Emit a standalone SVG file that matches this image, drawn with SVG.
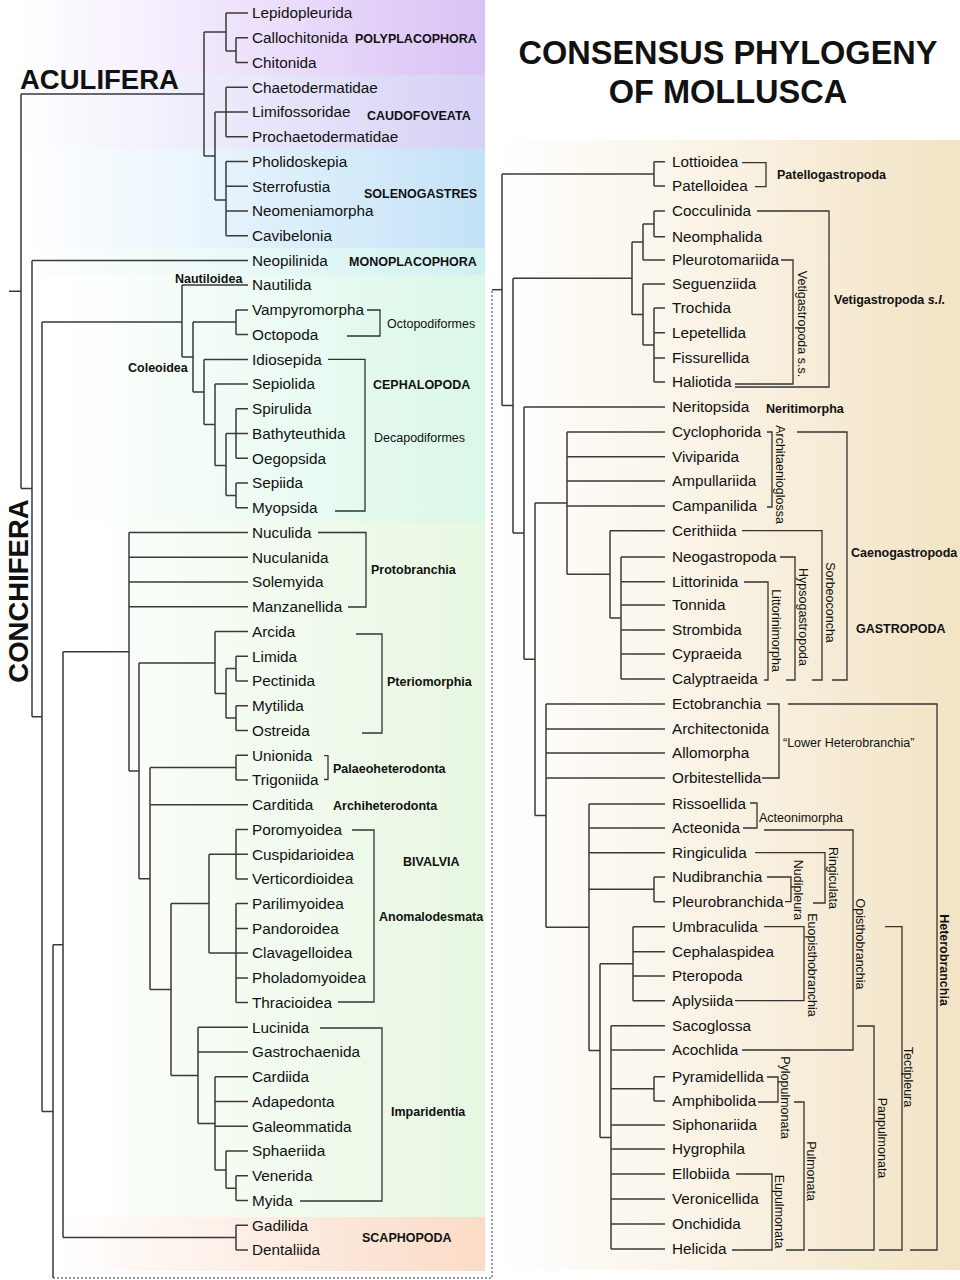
<svg xmlns="http://www.w3.org/2000/svg" width="960" height="1280" viewBox="0 0 960 1280">
<defs>
<style>
text{font-family:'Liberation Sans',Arial,sans-serif;fill:#111}
.leaf{font-size:15.3px}
.grp{font-size:12.5px;font-weight:bold}
.sub{font-size:12.5px}
.big{font-size:27.5px;font-weight:bold}
.title{font-size:32.5px;font-weight:bold;text-anchor:middle}
.mid{text-anchor:middle}
.tree{fill:none;stroke:#3a3a3a;stroke-width:1.5}
.br{fill:none;stroke:#333;stroke-width:1.3}
.dot{fill:none;stroke:#333;stroke-width:1;stroke-dasharray:2 2}
</style>
<linearGradient id="gPoly" x1="0" x2="1" y1="0" y2="0"><stop offset="0" stop-color="#ffffff"/><stop offset="0.3" stop-color="#f5eefd"/><stop offset="1" stop-color="#d9c2f5"/></linearGradient>
<linearGradient id="gCaudo" x1="0" x2="1" y1="0" y2="0"><stop offset="0" stop-color="#ffffff"/><stop offset="0.3" stop-color="#f1f0fc"/><stop offset="1" stop-color="#d5d1f5"/></linearGradient>
<linearGradient id="gSol" x1="0" x2="1" y1="0" y2="0"><stop offset="0" stop-color="#ffffff"/><stop offset="0.3" stop-color="#eef7fd"/><stop offset="1" stop-color="#c3e2f7"/></linearGradient>
<linearGradient id="gMono" x1="0" x2="1" y1="0" y2="0"><stop offset="0" stop-color="#ffffff"/><stop offset="0.3" stop-color="#f1fbfa"/><stop offset="1" stop-color="#d0f1f1"/></linearGradient>
<linearGradient id="gCeph" x1="0" x2="1" y1="0" y2="0"><stop offset="0" stop-color="#ffffff"/><stop offset="0.3" stop-color="#f4fdf8"/><stop offset="1" stop-color="#daf7e8"/></linearGradient>
<linearGradient id="gBiv" x1="0" x2="1" y1="0" y2="0"><stop offset="0" stop-color="#fbfefa"/><stop offset="1" stop-color="#e7f7e1"/></linearGradient>
<linearGradient id="gScaph" x1="0" x2="1" y1="0" y2="0"><stop offset="0" stop-color="#ffffff"/><stop offset="0.4" stop-color="#fdf0e8"/><stop offset="1" stop-color="#fbdbc6"/></linearGradient>
<linearGradient id="gGast" x1="0" x2="1" y1="0" y2="0"><stop offset="0" stop-color="#ffffff"/><stop offset="0.35" stop-color="#fbf6ec"/><stop offset="1" stop-color="#f2e3c4"/></linearGradient>
</defs>
<rect width="960" height="1280" fill="#ffffff"/>
<g id="backgrounds">
<rect x="20" y="0" width="465" height="75" fill="url(#gPoly)"/>
<rect x="20" y="75" width="465" height="74" fill="url(#gCaudo)"/>
<rect x="20" y="149" width="465" height="99" fill="url(#gSol)"/>
<rect x="20" y="248" width="465" height="27" fill="url(#gMono)"/>
<rect x="55" y="275" width="430" height="247" fill="url(#gCeph)"/>
<rect x="110" y="522" width="375" height="695" fill="url(#gBiv)"/>
<rect x="55" y="1217" width="430" height="54" fill="url(#gScaph)"/>
<rect x="494" y="140" width="466" height="1130" fill="url(#gGast)"/>
</g>
<g id="titles">
<text class="title" x="728" y="64">CONSENSUS PHYLOGENY</text>
<text class="title" x="728" y="103">OF MOLLUSCA</text>
<text class="big" x="20" y="89">ACULIFERA</text>
<text class="big mid" transform="translate(28 591) rotate(-90)">CONCHIFERA</text>
</g>
<g id="connectors">
<path class="tree" d="M9 291.3H21M21 94V488.5M21 94H204M21 488.5H32M32 260.4V716.7M32 260.4H248M32 716.7H42M42 322V1111.4M42 1111.4H53M53 944.8V1278"/>
<path class="dot" d="M53 1278H492V289.7"/>
<path class="tree" d="M492 289.7H502"/>
<path class="tree" d="M204 32V156M204 32H226M226 13V51M226 13H248M226 51H236M236 37.7V62.5M236 37.7H248M236 62.5H248M204 156H215M215 112V200M215 112H248M226 87.2V136.7M226 87.2H248M226 136.7H248M215 200H226M226 161.4V235.7M226 161.4H248M226 186.2H248M226 210.9H248M226 235.7H248"/>
<path class="tree" d="M42 322H182M182 285.1V357M182 285.1H248M182 357H193M193 322V392M193 322H236M236 309.9V334.6M236 309.9H248M236 334.6H248M193 392H204M204 359.4V424.5M204 359.4H248M204 424.5H215M215 384.1V465.5M215 384.1H248M215 465.5H226M226 433.6V495.5M226 433.6H248M236 408.8V458.3M236 408.8H248M236 458.3H248M226 495.5H236M236 483.1V507.8M236 483.1H248M236 507.8H248"/>
<path class="tree" d="M53 944.8H63M63 651.7V1237.6M63 651.7H129M129 532.5V770.9M129 532.5H248M129 557.3H248M129 582H248M129 606.8H248M129 770.9H139M139 663V878.7M139 663H215M215 631.5V693.4M215 631.5H248M215 693.4H226M226 668.6V718.1M226 668.6H236M236 656.2V681M236 656.2H248M236 681H248M226 718.1H236M236 705.7V730.5M236 705.7H248M236 730.5H248M139 878.7H150M150 767.5V989.5M150 767.5H236M236 755.2V779.9M236 755.2H248M236 779.9H248M150 804.7H248M150 989.5H171M171 903.6V1075.4M171 903.6H209M209 854.2V953.1M209 854.2H248M236 829.4V878.9M236 829.4H248M236 878.9H248M209 953.1H248M236 903.6V1002.6M236 903.6H248M236 928.4H248M236 977.9H248M236 1002.6H248M171 1075.4H198M198 1027.3V1123.5M198 1027.3H248M198 1052.1H248M198 1123.5H215M215 1076.8V1170M215 1076.8H248M215 1101.6H248M215 1126.3H248M215 1170H226M226 1151V1188.2M226 1151H248M226 1188.2H236M236 1175.8V1200.5M236 1175.8H248M236 1200.5H248M63 1237.6H236M236 1225.3V1250M236 1225.3H248M236 1250H248"/>
<path class="tree" d="M502 173.9V405.6M502 173.9H654M654 161.7V186M654 161.7H665M654 186H665M502 405.6H513M513 278.2V533.1M513 278.2H632M632 242V314.5M632 242H643M643 223.9V260M643 223.9H654M654 211V236.7M654 211H665M654 236.7H665M643 260H665M632 314.5H643M643 284V345M643 284H665M643 345H654M654 308V382M654 308H665M654 332.7H665M654 358H665M654 382H665"/>
<path class="tree" d="M513 533.1H524M524 407V659.2M524 407H665M524 659.2H535M535 503V815.6M535 503H567M567 432V574.3M567 432H665M567 456.7H665M567 481H665M567 506H665M567 574.3H610M610 530.7V618M610 530.7H665M610 618H621M621 557V679M621 557H665M621 581.7H665M621 605H665M621 630H665M621 654H665M621 679H665"/>
<path class="tree" d="M535 815.6H546M546 704V927.3M546 704H665M546 729H665M546 753H665M546 778H665M546 927.3H589M589 804V1050.5M589 804H665M589 828H665M589 852.7H665M589 889.3H654M654 877V901.7M654 877H665M654 901.7H665M589 1050.5H600M600 963.7V1137.4M600 963.7H633M633 926.7V1000.7M633 926.7H665M633 951.7H665M633 976H665M633 1000.7H665M600 1137.4H611M611 1025.7V1249M611 1025.7H665M611 1050H665M611 1125H665M611 1149H665M611 1174H665M611 1199H665M611 1224H665M611 1249H665M611 1088.8H654M654 1076.7V1101M654 1076.7H665M654 1101H665"/>
<path class="br" d="M367 310H380V336H347M328 359.4H365V511H335M318 532.5H366V607H348M356 634H382V733H362M324 755.7H328V779.5H324M352 830H374V1002H338M320 1028H382V1201H300"/>
<path class="br" d="M742 162.7H766V186.7H755M781 260H793V384H735M757 211H829V387H735M767 432H772V507H767M797 432H847V680H832M742 530.7H822V680H812M780 557H795V680H786M744 582H768V680H764M767 704H779V778H762M788 704H937V1250H910M750 803H757V828H743M764 830H853V1050H742M755 852.7H825V903H813M767 877H791V901.7H785M764 926.7H804V1000.7H735M885 926.7H902V1250H879M857 1026H874V1250H808M767 1077H778V1102H758M794 1102H804V1250H786M736 1174H772V1250H732"/>
</g>
<g id="left-leaves" class="leaf">
<g id="n-Lepidopleurida"><text class="leaf" x="252" y="18.3">Lepidopleurida</text></g>
<g id="n-Callochitonida"><text class="leaf" x="252" y="43">Callochitonida</text></g>
<g id="n-Chitonida"><text class="leaf" x="252" y="67.8">Chitonida</text></g>
<g id="n-Chaetodermatidae"><text class="leaf" x="252" y="92.5">Chaetodermatidae</text></g>
<g id="n-Limifossoridae"><text class="leaf" x="252" y="117.3">Limifossoridae</text></g>
<g id="n-Prochaetodermatidae"><text class="leaf" x="252" y="142">Prochaetodermatidae</text></g>
<g id="n-Pholidoskepia"><text class="leaf" x="252" y="166.7">Pholidoskepia</text></g>
<g id="n-Sterrofustia"><text class="leaf" x="252" y="191.5">Sterrofustia</text></g>
<g id="n-Neomeniamorpha"><text class="leaf" x="252" y="216.2">Neomeniamorpha</text></g>
<g id="n-Cavibelonia"><text class="leaf" x="252" y="241">Cavibelonia</text></g>
<g id="n-Neopilinida"><text class="leaf" x="252" y="265.7">Neopilinida</text></g>
<g id="n-Nautilida"><text class="leaf" x="252" y="290.4">Nautilida</text></g>
<g id="n-Vampyromorpha"><text class="leaf" x="252" y="315.2">Vampyromorpha</text></g>
<g id="n-Octopoda"><text class="leaf" x="252" y="339.9">Octopoda</text></g>
<g id="n-Idiosepida"><text class="leaf" x="252" y="364.7">Idiosepida</text></g>
<g id="n-Sepiolida"><text class="leaf" x="252" y="389.4">Sepiolida</text></g>
<g id="n-Spirulida"><text class="leaf" x="252" y="414.1">Spirulida</text></g>
<g id="n-Bathyteuthida"><text class="leaf" x="252" y="438.9">Bathyteuthida</text></g>
<g id="n-Oegopsida"><text class="leaf" x="252" y="463.6">Oegopsida</text></g>
<g id="n-Sepiida"><text class="leaf" x="252" y="488.4">Sepiida</text></g>
<g id="n-Myopsida"><text class="leaf" x="252" y="513.1">Myopsida</text></g>
<g id="n-Nuculida"><text class="leaf" x="252" y="537.8">Nuculida</text></g>
<g id="n-Nuculanida"><text class="leaf" x="252" y="562.6">Nuculanida</text></g>
<g id="n-Solemyida"><text class="leaf" x="252" y="587.3">Solemyida</text></g>
<g id="n-Manzanellida"><text class="leaf" x="252" y="612.1">Manzanellida</text></g>
<g id="n-Arcida"><text class="leaf" x="252" y="636.8">Arcida</text></g>
<g id="n-Limida"><text class="leaf" x="252" y="661.5">Limida</text></g>
<g id="n-Pectinida"><text class="leaf" x="252" y="686.3">Pectinida</text></g>
<g id="n-Mytilida"><text class="leaf" x="252" y="711">Mytilida</text></g>
<g id="n-Ostreida"><text class="leaf" x="252" y="735.8">Ostreida</text></g>
<g id="n-Unionida"><text class="leaf" x="252" y="760.5">Unionida</text></g>
<g id="n-Trigoniida"><text class="leaf" x="252" y="785.2">Trigoniida</text></g>
<g id="n-Carditida"><text class="leaf" x="252" y="810">Carditida</text></g>
<g id="n-Poromyoidea"><text class="leaf" x="252" y="834.7">Poromyoidea</text></g>
<g id="n-Cuspidarioidea"><text class="leaf" x="252" y="859.5">Cuspidarioidea</text></g>
<g id="n-Verticordioidea"><text class="leaf" x="252" y="884.2">Verticordioidea</text></g>
<g id="n-Parilimyoidea"><text class="leaf" x="252" y="908.9">Parilimyoidea</text></g>
<g id="n-Pandoroidea"><text class="leaf" x="252" y="933.7">Pandoroidea</text></g>
<g id="n-Clavagelloidea"><text class="leaf" x="252" y="958.4">Clavagelloidea</text></g>
<g id="n-Pholadomyoidea"><text class="leaf" x="252" y="983.2">Pholadomyoidea</text></g>
<g id="n-Thracioidea"><text class="leaf" x="252" y="1007.9">Thracioidea</text></g>
<g id="n-Lucinida"><text class="leaf" x="252" y="1032.6">Lucinida</text></g>
<g id="n-Gastrochaenida"><text class="leaf" x="252" y="1057.4">Gastrochaenida</text></g>
<g id="n-Cardiida"><text class="leaf" x="252" y="1082.1">Cardiida</text></g>
<g id="n-Adapedonta"><text class="leaf" x="252" y="1106.9">Adapedonta</text></g>
<g id="n-Galeommatida"><text class="leaf" x="252" y="1131.6">Galeommatida</text></g>
<g id="n-Sphaeriida"><text class="leaf" x="252" y="1156.3">Sphaeriida</text></g>
<g id="n-Venerida"><text class="leaf" x="252" y="1181.1">Venerida</text></g>
<g id="n-Myida"><text class="leaf" x="252" y="1205.8">Myida</text></g>
<g id="n-Gadilida"><text class="leaf" x="252" y="1230.6">Gadilida</text></g>
<g id="n-Dentaliida"><text class="leaf" x="252" y="1255.3">Dentaliida</text></g>
</g>
<g id="right-leaves">
<g id="n-Lottioidea"><text class="leaf" x="672" y="167">Lottioidea</text></g>
<g id="n-Patelloidea"><text class="leaf" x="672" y="191.3">Patelloidea</text></g>
<g id="n-Cocculinida"><text class="leaf" x="672" y="216.3">Cocculinida</text></g>
<g id="n-Neomphalida"><text class="leaf" x="672" y="242">Neomphalida</text></g>
<g id="n-Pleurotomariida"><text class="leaf" x="672" y="265.3">Pleurotomariida</text></g>
<g id="n-Seguenziida"><text class="leaf" x="672" y="289.3">Seguenziida</text></g>
<g id="n-Trochida"><text class="leaf" x="672" y="313.3">Trochida</text></g>
<g id="n-Lepetellida"><text class="leaf" x="672" y="338">Lepetellida</text></g>
<g id="n-Fissurellida"><text class="leaf" x="672" y="363.3">Fissurellida</text></g>
<g id="n-Haliotida"><text class="leaf" x="672" y="387.3">Haliotida</text></g>
<g id="n-Neritopsida"><text class="leaf" x="672" y="412.3">Neritopsida</text></g>
<g id="n-Cyclophorida"><text class="leaf" x="672" y="437.3">Cyclophorida</text></g>
<g id="n-Viviparida"><text class="leaf" x="672" y="462">Viviparida</text></g>
<g id="n-Ampullariida"><text class="leaf" x="672" y="486.3">Ampullariida</text></g>
<g id="n-Campanilida"><text class="leaf" x="672" y="511.3">Campanilida</text></g>
<g id="n-Cerithiida"><text class="leaf" x="672" y="536">Cerithiida</text></g>
<g id="n-Neogastropoda"><text class="leaf" x="672" y="562.3">Neogastropoda</text></g>
<g id="n-Littorinida"><text class="leaf" x="672" y="587">Littorinida</text></g>
<g id="n-Tonnida"><text class="leaf" x="672" y="610.3">Tonnida</text></g>
<g id="n-Strombida"><text class="leaf" x="672" y="635.3">Strombida</text></g>
<g id="n-Cypraeida"><text class="leaf" x="672" y="659.3">Cypraeida</text></g>
<g id="n-Calyptraeida"><text class="leaf" x="672" y="684.3">Calyptraeida</text></g>
<g id="n-Ectobranchia"><text class="leaf" x="672" y="709.3">Ectobranchia</text></g>
<g id="n-Architectonida"><text class="leaf" x="672" y="734.3">Architectonida</text></g>
<g id="n-Allomorpha"><text class="leaf" x="672" y="758.3">Allomorpha</text></g>
<g id="n-Orbitestellida"><text class="leaf" x="672" y="783.3">Orbitestellida</text></g>
<g id="n-Rissoellida"><text class="leaf" x="672" y="809.3">Rissoellida</text></g>
<g id="n-Acteonida"><text class="leaf" x="672" y="833.3">Acteonida</text></g>
<g id="n-Ringiculida"><text class="leaf" x="672" y="858">Ringiculida</text></g>
<g id="n-Nudibranchia"><text class="leaf" x="672" y="882.3">Nudibranchia</text></g>
<g id="n-Pleurobranchida"><text class="leaf" x="672" y="907">Pleurobranchida</text></g>
<g id="n-Umbraculida"><text class="leaf" x="672" y="932">Umbraculida</text></g>
<g id="n-Cephalaspidea"><text class="leaf" x="672" y="957">Cephalaspidea</text></g>
<g id="n-Pteropoda"><text class="leaf" x="672" y="981.3">Pteropoda</text></g>
<g id="n-Aplysiida"><text class="leaf" x="672" y="1006">Aplysiida</text></g>
<g id="n-Sacoglossa"><text class="leaf" x="672" y="1031">Sacoglossa</text></g>
<g id="n-Acochlida"><text class="leaf" x="672" y="1055.3">Acochlida</text></g>
<g id="n-Pyramidellida"><text class="leaf" x="672" y="1082">Pyramidellida</text></g>
<g id="n-Amphibolida"><text class="leaf" x="672" y="1106.3">Amphibolida</text></g>
<g id="n-Siphonariida"><text class="leaf" x="672" y="1130.3">Siphonariida</text></g>
<g id="n-Hygrophila"><text class="leaf" x="672" y="1154.3">Hygrophila</text></g>
<g id="n-Ellobiida"><text class="leaf" x="672" y="1179.3">Ellobiida</text></g>
<g id="n-Veronicellida"><text class="leaf" x="672" y="1204.3">Veronicellida</text></g>
<g id="n-Onchidida"><text class="leaf" x="672" y="1229.3">Onchidida</text></g>
<g id="n-Helicida"><text class="leaf" x="672" y="1254.3">Helicida</text></g>
</g>
<g id="left-clades">
<text class="grp" x="355" y="43">POLYPLACOPHORA</text>
<text class="grp" x="367" y="119.5">CAUDOFOVEATA</text>
<text class="grp" x="364" y="197.5">SOLENOGASTRES</text>
<text class="grp" x="349" y="265.5">MONOPLACOPHORA</text>
<text class="grp" x="175" y="282.5">Nautiloidea</text>
<text class="grp" x="128" y="371.5">Coleoidea</text>
<text class="sub" x="387" y="327.8">Octopodiformes</text>
<text class="grp" x="373" y="388.5">CEPHALOPODA</text>
<text class="sub" x="374" y="441.5">Decapodiformes</text>
<text class="grp" x="371" y="573.5">Protobranchia</text>
<text class="grp" x="387" y="685.5">Pteriomorphia</text>
<text class="grp" x="333" y="772.5">Palaeoheterodonta</text>
<text class="grp" x="333" y="809.5">Archiheterodonta</text>
<text class="grp" x="403" y="865.5">BIVALVIA</text>
<text class="grp" x="379" y="920.5">Anomalodesmata</text>
<text class="grp" x="391" y="1115.5">Imparidentia</text>
<text class="grp" x="362" y="1241.5">SCAPHOPODA</text>
</g>
<g id="right-clades">
<text class="grp" x="777" y="178.5">Patellogastropoda</text>
<text class="grp" x="834" y="303.5">Vetigastropoda <tspan font-style="italic">s.l.</tspan></text>
<text class="grp" x="766" y="412.5">Neritimorpha</text>
<text class="grp" x="851" y="556.5">Caenogastropoda</text>
<text class="grp" x="856" y="632.5">GASTROPODA</text>
<text class="sub" x="783" y="746.5">“Lower Heterobranchia”</text>
<text class="sub" x="759" y="821.5">Acteonimorpha</text>
<text class="sub mid" transform="translate(797.5 324) rotate(90)">Vetigastropoda s.s.</text>
<text class="sub mid" transform="translate(775.5 474.5) rotate(90)">Architaenioglossa</text>
<text class="sub mid" transform="translate(825.5 602.5) rotate(90)">Sorbeoconcha</text>
<text class="sub mid" transform="translate(798.5 617) rotate(90)">Hypsogastropoda</text>
<text class="sub mid" transform="translate(771.5 630.5) rotate(90)">Littorinimorpha</text>
<text class="sub mid" transform="translate(855.5 944) rotate(90)">Opisthobranchia</text>
<text class="sub mid" transform="translate(828.5 878) rotate(90)">Ringiculata</text>
<text class="sub mid" transform="translate(793.5 890) rotate(90)">Nudipleura</text>
<text class="sub mid" transform="translate(807.5 965) rotate(90)">Euopisthobranchia</text>
<text class="sub mid" transform="translate(903.5 1077) rotate(90)">Tectipleura</text>
<text class="sub mid" transform="translate(877.5 1138) rotate(90)">Panpulmonata</text>
<text class="sub mid" transform="translate(780.5 1097.5) rotate(90)">Pylopulmonata</text>
<text class="sub mid" transform="translate(806.5 1171) rotate(90)">Pulmonata</text>
<text class="sub mid" transform="translate(774.5 1211.5) rotate(90)">Eupulmonata</text>
<text class="grp mid" transform="translate(939.5 960) rotate(90)">Heterobranchia</text>
</g>
</svg>
